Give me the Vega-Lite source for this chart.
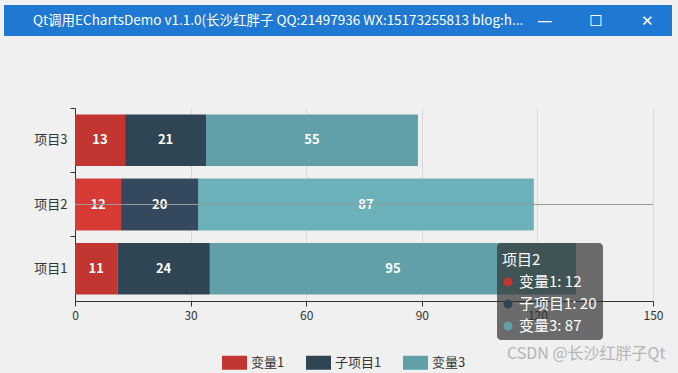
{
  "$schema": "https://vega.github.io/schema/vega-lite/v6.json",
  "width": 578,
  "height": 193,
  "autosize": {"type": "none"},
  "padding": {"left": 75, "top": 108, "right": 25, "bottom": 72},
  "background": "#f0f0f0",
  "config": {"view": {"stroke": null}, "font": "Noto Sans CJK SC"},
  "title": {
    "text": "Qt调用EChartsDemo v1.1.0(长沙红胖子 QQ:21497936 WX:15173255813 blog:h...",
    "anchor": "start",
    "frame": "group",
    "orient": "top",
    "offset": -22,
    "dx": -42,
    "fontSize": 13.5,
    "fontWeight": "normal",
    "color": "#ffffff"
  },
  "datasets": {
    "bars": [
      {"category": "项目1", "series": "变量1", "n": 1, "value": 11},
      {"category": "项目1", "series": "子项目1", "n": 2, "value": 24},
      {"category": "项目1", "series": "变量3", "n": 3, "value": 95},
      {"category": "项目2", "series": "变量1", "n": 1, "value": 12},
      {"category": "项目2", "series": "子项目1", "n": 2, "value": 20},
      {"category": "项目2", "series": "变量3", "n": 3, "value": 87},
      {"category": "项目3", "series": "变量1", "n": 1, "value": 13},
      {"category": "项目3", "series": "子项目1", "n": 2, "value": 21},
      {"category": "项目3", "series": "变量3", "n": 3, "value": 55}
    ],
    "win": [{"part": "titlebar"}],
    "buttons": [{"btn": "—"}, {"btn": "☐"}, {"btn": "✕"}],
    "tipbox": [{"part": "tooltip"}],
    "tip": [
      {"row": "项目2", "label": "项目2"},
      {"row": "变量1", "label": "变量1: 12", "series": "变量1"},
      {"row": "子项目1", "label": "子项目1: 20", "series": "子项目1"},
      {"row": "变量3", "label": "变量3: 87", "series": "变量3"}
    ]
  },
  "layer": [
    {
      "layer": [
        {
          "data": {"name": "win"},
          "mark": {"type": "rect", "color": "#1f78d1"},
          "encoding": {
            "x": {"field": "part", "type": "nominal", "scale": {"range": [-71, 597], "paddingInner": 0, "paddingOuter": 0}, "axis": null}
          }
        },
        {
          "data": {"name": "buttons"},
          "mark": {"type": "text", "color": "#ffffff", "font": "DejaVu Sans", "fontSize": 15, "baseline": "middle"},
          "encoding": {
            "x": {"field": "btn", "type": "nominal", "sort": ["—", "☐", "✕"], "scale": {"range": [444, 598], "paddingInner": 0, "paddingOuter": 0}, "axis": null},
            "text": {"field": "btn"}
          }
        }
      ],
      "encoding": {
        "y": {"datum": "bar", "type": "nominal", "scale": {"range": [-103, -72], "paddingInner": 0, "paddingOuter": 0}, "axis": null}
      },
      "resolve": {"scale": {"x": "independent"}}
    },
    {
      "data": {"name": "bars"},
      "encoding": {
        "y": {
          "field": "category",
          "type": "nominal",
          "sort": ["项目3", "项目2", "项目1"],
          "scale": {"paddingInner": 0.2, "paddingOuter": 0.1},
          "axis": {
            "title": null,
            "domainColor": "#333333",
            "tickColor": "#333333",
            "tickSize": 5,
            "bandPosition": -0.125,
            "labelColor": "#333333",
            "labelFontSize": 13,
            "labelPadding": 3,
            "grid": false
          }
        }
      },
      "layer": [
        {
          "mark": {"type": "bar"},
          "encoding": {
            "x": {
              "field": "value",
              "type": "quantitative",
              "stack": "zero",
              "scale": {"domain": [0, 150], "nice": false},
              "axis": {
                "values": [0, 30, 60, 90, 120, 150],
                "title": "CSDN @长沙红胖子Qt",
                "titleX": 590,
                "titleY": 52,
                "titleAlign": "right",
                "titleBaseline": "middle",
                "titleColor": "#b4b4b4",
                "titleFontSize": 16,
                "titleFontWeight": "normal",
                "grid": true,
                "gridColor": "#dadada",
                "domainColor": "#333333",
                "tickColor": "#333333",
                "tickSize": 5,
                "labelColor": "#333333",
                "labelFontSize": 12,
                "labelPadding": 4,
                "labelFlush": false,
                "labelOverlap": false
              }
            },
            "color": {
              "field": "series",
              "type": "nominal",
              "scale": {"domain": ["变量1", "子项目1", "变量3"], "range": ["#c23531", "#2f4554", "#61a0a8"]},
              "legend": {
                "orient": "none",
                "legendX": 147,
                "legendY": 242,
                "direction": "horizontal",
                "title": null,
                "symbolType": "M-1,-0.56L1,-0.56L1,0.56L-1,0.56Z",
                "symbolSize": 625,
                "symbolStrokeWidth": 0,
                "symbolOpacity": 1,
                "labelFontSize": 13,
                "labelColor": "#333333",
                "labelOffset": 4,
                "columnPadding": 21
              }
            },
            "order": {"field": "n"}
          }
        },
        {
          "transform": [{"filter": "datum.category === '项目2'"}],
          "mark": {"type": "bar"},
          "encoding": {
            "x": {"field": "value", "type": "quantitative", "stack": "zero"},
            "fill": {
              "field": "series",
              "type": "nominal",
              "scale": {"domain": ["变量1", "子项目1", "变量3"], "range": ["#d83b36", "#34495d", "#6bb1b9"]},
              "legend": null
            },
            "order": {"field": "n"}
          }
        },
        {
          "mark": {"type": "text", "color": "#ffffff", "fontWeight": "bold", "fontSize": 13, "baseline": "middle"},
          "encoding": {
            "x": {"field": "value", "type": "quantitative", "stack": "zero", "bandPosition": 0.5},
            "text": {"field": "value", "type": "quantitative"},
            "detail": {"field": "series"},
            "order": {"field": "n"}
          }
        },
        {
          "transform": [{"filter": "datum.category === '项目2' && datum.n === 1"}],
          "mark": {"type": "rule", "color": "#9a9a9a", "strokeWidth": 1},
          "encoding": {}
        }
      ]
    },
    {
      "data": {"name": "tipbox"},
      "mark": {"type": "rect", "color": "#323232", "opacity": 0.7, "cornerRadius": 4},
      "encoding": {
        "x": {"field": "part", "type": "nominal", "scale": {"range": [422, 528], "paddingInner": 0, "paddingOuter": 0}, "axis": null},
        "y": {"field": "part", "type": "nominal", "scale": {"range": [135, 232], "paddingInner": 0, "paddingOuter": 0}, "axis": null}
      }
    },
    {
      "data": {"name": "tip"},
      "encoding": {
        "y": {"field": "row", "type": "nominal", "sort": ["项目2", "变量1", "子项目1", "变量3"], "scale": {"range": [141, 229], "paddingInner": 0, "paddingOuter": 0}, "axis": null}
      },
      "layer": [
        {
          "transform": [{"filter": "datum.row === '项目2'"}],
          "mark": {"type": "text", "color": "#ffffff", "fontSize": 15, "align": "left", "baseline": "middle"},
          "encoding": {
            "x": {"datum": "head", "type": "nominal", "scale": {"range": [426, 428], "paddingInner": 0, "paddingOuter": 0}, "axis": null},
            "text": {"field": "label"}
          }
        },
        {
          "transform": [{"filter": "datum.series != null"}],
          "mark": {"type": "point", "filled": true, "size": 80, "opacity": 1},
          "encoding": {
            "x": {"datum": "dot", "type": "nominal", "scale": {"range": [432, 434], "paddingInner": 0, "paddingOuter": 0}, "axis": null},
            "color": {"field": "series", "type": "nominal", "legend": null}
          }
        },
        {
          "transform": [{"filter": "datum.series != null"}],
          "mark": {"type": "text", "color": "#ffffff", "fontSize": 15, "align": "left", "baseline": "middle"},
          "encoding": {
            "x": {"datum": "item", "type": "nominal", "scale": {"range": [443, 445], "paddingInner": 0, "paddingOuter": 0}, "axis": null},
            "text": {"field": "label"}
          }
        }
      ],
      "resolve": {"scale": {"x": "independent"}}
    }
  ],
  "resolve": {"scale": {"x": "independent", "y": "independent"}}
}
